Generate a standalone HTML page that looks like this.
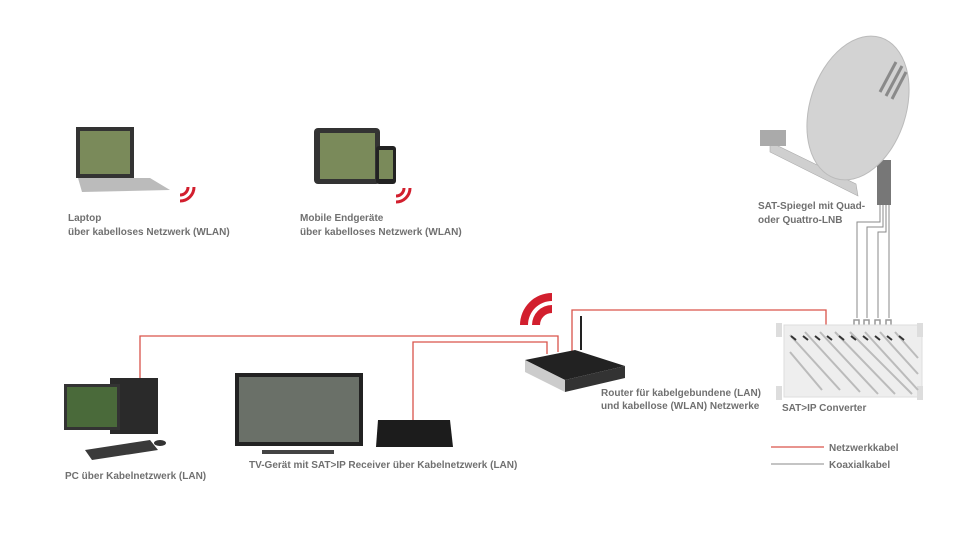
<!DOCTYPE html>
<html><head><meta charset="utf-8"><style>
html,body{margin:0;padding:0;background:#fff;}
svg text{font-family:"Liberation Sans",sans-serif;font-size:10px;font-weight:bold;fill:#707070;}
</style></head><body>
<svg width="960" height="540" viewBox="0 0 960 540" xmlns="http://www.w3.org/2000/svg">
<rect width="960" height="540" fill="#fff"/>
<g fill="none" stroke="#d9534a" stroke-width="1.3">
<polyline points="140,378 140,336 558,336 558,352"/>
<polyline points="413,420 413,342 547,342 547,354"/>
<polyline points="572,352 572,310 826,310 826,325"/>
<line x1="771" y1="447" x2="824" y2="447"/>
</g>
<g fill="none" stroke="#8a8a8a" stroke-width="1">
<polyline points="880,200 880,222 857,222 857,318"/>
<polyline points="883,200 883,227 867,227 867,318"/>
<polyline points="886,200 886,232 878,232 878,318"/>
<polyline points="889,200 889,318"/>
<line x1="771" y1="464" x2="824" y2="464"/>
</g>
<g fill="none" stroke="#999" stroke-width="1.5">
<path d="M854,326v-6h5v6M864,326v-6h5v6M875,326v-6h5v6M886,326v-6h5v6"/>
</g>
<rect x="877" y="160" width="14" height="45" fill="#777"/>
<path d="M770,142 L856,184 L858,196 L770,152Z" fill="#cfcfcf" stroke="#aaa" stroke-width="0.6"/>
<rect x="760" y="130" width="26" height="16" fill="#aaa"/>
<ellipse cx="858" cy="108" rx="48" ry="74" transform="rotate(18 858 108)" fill="#d3d3d3" stroke="#bbb"/>
<g stroke="#8a8a8a" stroke-width="3"><line x1="896" y1="62" x2="880" y2="92"/><line x1="902" y1="66" x2="886" y2="96"/><line x1="906" y1="72" x2="892" y2="99"/></g>
<rect x="784" y="325" width="138" height="72" fill="#eee" stroke="#ddd"/>
<rect x="776" y="323" width="6" height="14" fill="#ddd"/><rect x="917" y="323" width="6" height="14" fill="#ddd"/>
<rect x="776" y="386" width="6" height="14" fill="#ddd"/><rect x="917" y="386" width="6" height="14" fill="#ddd"/>
<g stroke="#bbb" stroke-width="2">
<line x1="790" y1="335" x2="840" y2="390"/><line x1="805" y1="332" x2="860" y2="392"/><line x1="820" y1="332" x2="878" y2="394"/><line x1="835" y1="332" x2="895" y2="394"/><line x1="850" y1="332" x2="912" y2="394"/><line x1="865" y1="332" x2="918" y2="390"/><line x1="880" y1="332" x2="918" y2="374"/><line x1="895" y1="332" x2="918" y2="358"/><line x1="790" y1="352" x2="822" y2="390"/>
</g>
<g stroke="#333" stroke-width="2">
<line x1="791" y1="336" x2="796" y2="340"/><line x1="803" y1="336" x2="808" y2="340"/><line x1="815" y1="336" x2="820" y2="340"/><line x1="827" y1="336" x2="832" y2="340"/><line x1="839" y1="336" x2="844" y2="340"/><line x1="851" y1="336" x2="856" y2="340"/><line x1="863" y1="336" x2="868" y2="340"/><line x1="875" y1="336" x2="880" y2="340"/><line x1="887" y1="336" x2="892" y2="340"/><line x1="899" y1="336" x2="904" y2="340"/>
</g>
<line x1="581" y1="316" x2="581" y2="350" stroke="#222" stroke-width="2"/>
<path d="M525,360 L575,350 L625,366 L565,380Z" fill="#222"/>
<path d="M525,360 L565,380 L565,392 L525,372Z" fill="#ccc"/>
<path d="M565,380 L625,366 L625,378 L565,392Z" fill="#333"/>
<path d="M520,325 a32,32 0 0 1 32,-32 v8 a24,24 0 0 0 -24,24z M532,325 a20,20 0 0 1 20,-20 v8 a12,12 0 0 0 -12,12z" fill="#d21f2e"/>
<g fill="none" stroke="#d21f2e" stroke-width="3">
<path d="M180,195 a8,8 0 0 0 8,-8"/><path d="M180,201 a14,14 0 0 0 14,-14"/>
<path d="M396,196 a8,8 0 0 0 8,-8"/><path d="M396,202 a14,14 0 0 0 14,-14"/>
</g>
<path d="M76,127 L134,127 L134,178 L76,178Z" fill="#333"/>
<rect x="80" y="131" width="50" height="43" fill="#7a8a5a"/>
<path d="M78,178 L150,178 L170,190 L82,192Z" fill="#bbb"/>
<rect x="314" y="128" width="66" height="56" rx="4" fill="#333"/>
<rect x="320" y="133" width="55" height="46" fill="#7a8a5a"/>
<rect x="376" y="146" width="20" height="38" rx="3" fill="#222"/>
<rect x="379" y="150" width="14" height="29" fill="#7a8a5a"/>
<rect x="110" y="378" width="48" height="56" fill="#2a2a2a"/>
<rect x="64" y="384" width="56" height="46" fill="#333"/>
<rect x="67" y="387" width="50" height="40" fill="#4a6a3a"/>
<path d="M85,450 L150,440 L158,450 L92,460Z" fill="#3a3a3a"/>
<ellipse cx="160" cy="443" rx="6" ry="3" fill="#333"/>
<rect x="235" y="373" width="128" height="73" fill="#222"/>
<rect x="239" y="377" width="120" height="65" fill="#6a7068"/>
<rect x="262" y="450" width="72" height="4" fill="#444"/>
<path d="M378,420 L450,420 L453,447 L376,447Z" fill="#1c1c1c"/>
<text x="68" y="221">Laptop</text>
<text x="68" y="235">über kabelloses Netzwerk (WLAN)</text>
<text x="300" y="221">Mobile Endgeräte</text>
<text x="300" y="235">über kabelloses Netzwerk (WLAN)</text>
<text x="758" y="209">SAT-Spiegel mit Quad-</text>
<text x="758" y="223">oder Quattro-LNB</text>
<text x="601" y="396">Router für kabelgebundene (LAN)</text>
<text x="601" y="409">und kabellose (WLAN) Netzwerke</text>
<text x="782" y="411">SAT&gt;IP Converter</text>
<text x="829" y="451">Netzwerkkabel</text>
<text x="829" y="468">Koaxialkabel</text>
<text x="249" y="468">TV-Gerät mit SAT&gt;IP Receiver über Kabelnetzwerk (LAN)</text>
<text x="65" y="479">PC über Kabelnetzwerk (LAN)</text>
</svg>
</body></html>
